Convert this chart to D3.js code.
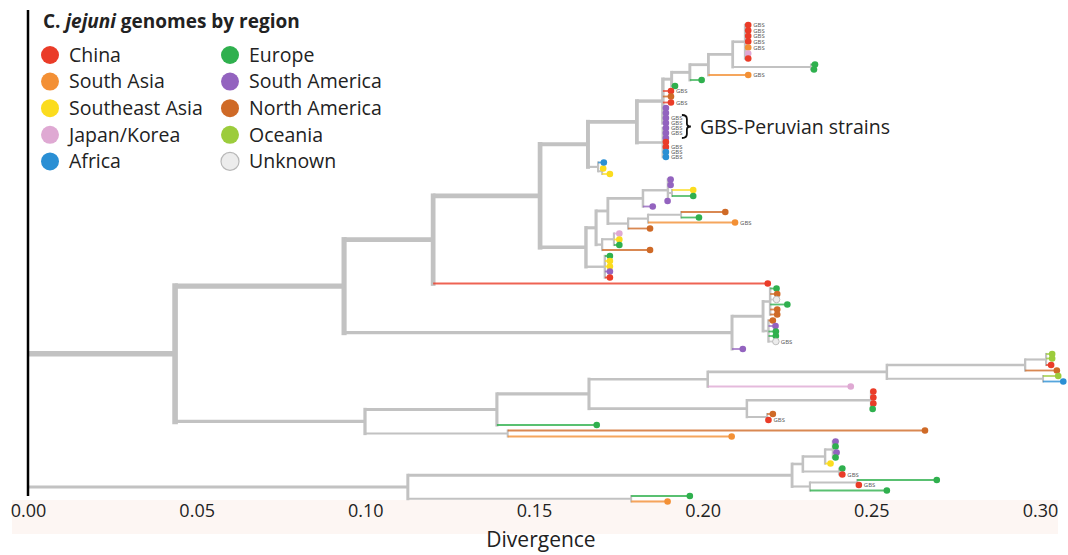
<!DOCTYPE html>
<html>
<head>
<meta charset="utf-8">
<script src="https://cdn.jsdelivr.net/npm/d3@7"></script>
<style>
body { margin: 0; background: #fff; font-family: "Open Sans", sans-serif; }
</style>
</head>
<body>
<svg id="chart" width="1068" height="555"></svg>
<script>
'use strict'

// legend / regions
const regionNames = ['China', 'South Asia', 'Southeast Asia', 'Japan/Korea', 'Africa',
	'Europe', 'South America', 'North America', 'Oceania', 'Unknown']
const regionCodes = ['CN', 'SA', 'SEA', 'JK', 'AF', 'EU', 'SAM', 'NA', 'OC', 'UN']
const regionColors = ['#ea3c28', '#f39035', '#fbdc1e', '#dfa9d3', '#2a8fd4',
	'#2fb04e', '#9363bf', '#cf6a27', '#9ccc3c', '#ececec']

const tickValues = [0, 0.05, 0.10, 0.15, 0.20, 0.25, 0.30]

// internal nodes: [id, parent, divergence]
const backbone = [
	['root', null, 0],
	['n175', 'root', 0.0436],
	['n408', 'root', 0.1126],
	['n344', 'n175', 0.0937],
	['n365', 'n175', 0.0999],
	['n433', 'n344', 0.1201],
	['n732', 'n344', 0.2087],
	['n540', 'n433', 0.1518],
	['n588', 'n540', 0.1660],
	['n586', 'n540', 0.1654]
]
const topInner = [
	['n637', 'n588', 0.1805], ['nW', 'n588', 0.1690], ['nW2', 'nW', 0.1702],
	['nU', 'n637', 0.1882], ['nL', 'n637', 0.1882], ['n671', 'nU', 0.1908],
	['n690', 'n671', 0.1962], ['n708', 'n690', 0.2017], ['n733', 'n708', 0.2089],
	['nZ', 'n733', 0.2126], ['n811', 'n733', 0.2321]
]
const midInner = [
	['nS1', 'n586', 0.1684], ['nS2', 'n586', 0.1710], ['nS1a', 'nS1', 0.1719],
	['nS1b', 'nS1', 0.1702], ['nS1a1', 'nS1a', 0.1823], ['nS1a2', 'nS1a', 0.1779],
	['nT1', 'nS1a1', 0.1897], ['nT1y', 'nT1', 0.1909], ['nS1a2u', 'nS1a2', 0.1838],
	['nU1', 'nS1a2u', 0.1936], ['nV', 'nS1b', 0.1737]
]
const a1bInner = [
	['nX', 'n732', 0.2179], ['nP', 'nX', 0.2200], ['nQ', 'nX', 0.2195]
]
const a2Inner = [
	['n497', 'n365', 0.1390], ['n507', 'n365', 0.1422], ['n589', 'n497', 0.1663],
	['n707', 'n589', 0.2015], ['n747', 'n589', 0.2131], ['n887', 'n707', 0.2546],
	['n1025', 'n887', 0.2956], ['n1043', 'n887', 0.3009], ['n1046', 'n1025', 0.3018],
	['n871', 'n747', 0.2499], ['n767', 'n747', 0.2191]
]
const bInner = [
	['nB1', 'n408', 0.2265], ['nB2', 'n408', 0.1788], ['nB1a', 'nB1', 0.2297],
	['nB1b', 'nB1', 0.2318], ['nB1a1', 'nB1a', 0.2363], ['nB1a1x', 'nB1a1', 0.2386],
	['nB1a2', 'nB1a', 0.2404], ['nB1b1', 'nB1b', 0.2458]
]

// tips: [parent, divergence, row slot, region, GBS]
const topTips = [
	['nZ', 0.2135, 0, 'CN', 1], ['nZ', 0.2135, 1.1, 'CN', 1], ['nZ', 0.2135, 2.2, 'CN', 1],
	['nZ', 0.2135, 3.3, 'CN', 1], ['nZ', 0.2135, 4.5, 'SA', 1], ['nZ', 0.2135, 5.7, 'JK', 0],
	['nZ', 0.2135, 6.7, 'CN', 0], ['n811', 0.2333, 7.9, 'EU', 0], ['n811', 0.2330, 8.9, 'EU', 0],
	['n708', 0.2135, 10, 'SA', 1], ['n690', 0.1997, 11, 'EU', 0], ['n671', 0.1918, 12.2, 'EU', 0],
	['nU', 0.1906, 13.2, 'CN', 1], ['nU', 0.1906, 14.3, 'NA', 0], ['nU', 0.1906, 15.5, 'CN', 1],
	['nU', 0.1891, 16.6, 'SAM', 0], ['nU', 0.1891, 17.6, 'SAM', 0], ['nU', 0.1891, 18.6, 'SAM', 1],
	['nU', 0.1891, 19.6, 'SAM', 1], ['nL', 0.1891, 20.6, 'SAM', 1], ['nL', 0.1891, 21.6, 'SAM', 1],
	['nL', 0.1891, 22.6, 'SAM', 0], ['nL', 0.1891, 23.4, 'CN', 0], ['nL', 0.1891, 24.4, 'CN', 1],
	['nL', 0.1891, 25.4, 'AF', 1], ['nL', 0.1891, 26.4, 'AF', 1], ['nW', 0.1707, 27.5, 'AF', 0],
	['nW2', 0.1705, 28.7, 'SEA', 0], ['nW2', 0.1725, 29.8, 'SEA', 0]
]
const midTips = [
	['nT1', 0.1905, 30.9, 'SAM', 0], ['nT1', 0.1905, 32, 'SAM', 0], ['nT1y', 0.1972, 33, 'SEA', 0],
	['nT1y', 0.1972, 34.2, 'EU', 0], ['nT1', 0.1896, 35.2, 'SAM', 0], ['nS1a1', 0.1852, 36.3, 'SAM', 0],
	['nU1', 0.2067, 37.4, 'NA', 0], ['nU1', 0.1989, 38.5, 'EU', 0], ['nS1a2u', 0.2096, 39.5, 'SA', 1],
	['nS1a2', 0.1844, 40.7, 'NA', 0], ['nV', 0.1753, 41.7, 'JK', 0], ['nV', 0.1753, 42.9, 'SEA', 0],
	['nV', 0.1753, 44, 'EU', 0], ['nS1b', 0.1844, 45, 'NA', 0], ['nS2', 0.1725, 46.2, 'EU', 0],
	['nS2', 0.1725, 47.2, 'SEA', 0], ['nS2', 0.1725, 48.3, 'SEA', 0], ['nS2', 0.1725, 49.3, 'SAM', 0],
	['nS2', 0.1725, 50.5, 'CN', 0], ['n433', 0.2193, 51.7, 'CN', 0]
]
const a1bTips = [
	['nP', 0.2219, 52.7, 'EU', 0], ['nP', 0.2221, 53.8, 'NA', 0], ['nP', 0.2219, 54.9, 'UN', 0],
	['nP', 0.2251, 55.9, 'EU', 0], ['nP', 0.2221, 56.9, 'NA', 0], ['nP', 0.2221, 57.9, 'NA', 0],
	['nQ', 0.2208, 59.1, 'NA', 0], ['nQ', 0.2216, 60.2, 'SAM', 0], ['nQ', 0.2217, 61.3, 'EU', 0],
	['nQ', 0.2217, 62.2, 'EU', 0], ['nQ', 0.2217, 63.3, 'UN', 1], ['n732', 0.2119, 64.8, 'SAM', 0]
]
const a2Tips = [
	['n1046', 0.3036, 65.8, 'OC', 0], ['n1046', 0.3036, 66.7, 'OC', 0], ['n1046', 0.3033, 68, 'CN', 0],
	['n1025', 0.3050, 69.1, 'NA', 0], ['n1043', 0.3054, 70.2, 'OC', 0], ['n1043', 0.3069, 71.3, 'AF', 0],
	['n707', 0.2439, 72.3, 'JK', 0], ['n871', 0.2506, 73.3, 'CN', 0], ['n871', 0.2506, 74.5, 'CN', 0],
	['n871', 0.2506, 75.7, 'CN', 0], ['n871', 0.2504, 76.8, 'EU', 0], ['n767', 0.2208, 77.8, 'NA', 0],
	['n767', 0.2195, 79, 'CN', 1], ['n497', 0.1686, 80, 'EU', 0], ['n507', 0.2659, 81.1, 'NA', 0],
	['n507', 0.2086, 82.3, 'SA', 0]
]
const bTips = [
	['nB1a1x', 0.2394, 83.3, 'SAM', 0], ['nB1a1x', 0.2394, 84.3, 'EU', 0], ['nB1a1x', 0.2397, 85.5, 'SAM', 0],
	['nB1a1x', 0.2394, 86.5, 'EU', 0], ['nB1a1', 0.2379, 87.7, 'SEA', 0], ['nB1a2', 0.2414, 88.7, 'EU', 0],
	['nB1a2', 0.2414, 89.9, 'CN', 1], ['nB1b1', 0.2694, 91, 'EU', 0], ['nB1b1', 0.2463, 92, 'CN', 1],
	['nB1b', 0.2546, 93.1, 'EU', 0], ['nB2', 0.1962, 94.2, 'EU', 0], ['nB2', 0.1896, 95.3, 'SA', 0]
]

const svg = d3.select('#chart')
const width = 1068

const x = d3.scaleLinear().domain([0, 0.3]).range([28, 1040])
const y = d3.scaleLinear().domain([0, 96]).range([25, 505])
const color = d3.scaleOrdinal().domain(regionCodes).range(regionColors)

// build hierarchy
const rows = []
;[backbone, topInner, midInner, a1bInner, a2Inner, bInner].forEach(list =>
	list.forEach(r => rows.push({id: r[0], parent: r[1], div: r[2]})))
;[topTips, midTips, a1bTips, a2Tips, bTips].forEach((list, k) =>
	list.forEach((r, i) => rows.push({id: 't' + k + '_' + i, parent: r[0], div: r[1], slot: r[2], region: r[3], gbs: r[4]})))

const root = d3.stratify().id(d => d.id).parentId(d => d.parent)(rows)
root.count()
root.eachAfter(n => {
	if (n.children) {
		const ys = n.children.map(c => c.slot)
		n.slot = (d3.min(ys) + d3.max(ys)) / 2
	} else n.slot = n.data.slot
})

const wScale = d3.scaleSqrt().domain([1, d3.max(root.children, c => c.value)]).range([1.8, 5.6])

// axis band
svg.append('rect')
	.attr('x', 12).attr('y', 500).attr('width', width - 22).attr('height', 34)
	.attr('fill', '#fdf6f3')

const gTree = svg.append('g')

// vertical connectors
gTree.selectAll('.vert')
	.data(root.descendants().filter(d => d.children && d.parent))
	.enter().append('path')
	.attr('class', 'vert')
	.attr('d', d => {
		const ys = d.children.map(c => c.slot)
		return 'M' + x(d.data.div) + ',' + y(d3.min(ys)) + 'V' + y(d3.max(ys))
	})
	.attr('stroke', '#c2c2c2')
	.attr('stroke-width', d => wScale(d.value))
	.attr('stroke-linecap', 'square')
	.attr('fill', 'none')

// horizontal branches
const branches = root.descendants().filter(d => d.parent)
gTree.selectAll('.branch')
	.data(branches.filter(d => d.children))
	.enter().append('path')
	.attr('class', 'branch')
	.attr('d', d => 'M' + x(d.parent.data.div) + ',' + y(d.slot) + 'H' + x(d.data.div))
	.attr('stroke', '#c2c2c2')
	.attr('stroke-width', d => wScale(d.value))
	.attr('fill', 'none')

gTree.selectAll('.tipbranch')
	.data(branches.filter(d => !d.children))
	.enter().append('path')
	.attr('class', 'tipbranch')
	.attr('d', d => 'M' + x(d.parent.data.div) + ',' + y(d.slot) + 'H' + x(d.data.div))
	.attr('stroke', d => d.data.region === 'UN' ? '#c2c2c2' : color(d.data.region))
	.attr('stroke-opacity', 0.8)
	.attr('stroke-width', 1.8)
	.attr('fill', 'none')

const leaves = root.leaves()

gTree.selectAll('.tip')
	.data(leaves)
	.enter().append('circle')
	.attr('class', 'tip')
	.attr('cx', d => x(d.data.div))
	.attr('cy', d => y(d.slot))
	.attr('r', 3.3)
	.attr('fill', d => color(d.data.region))
	.attr('stroke', d => d.data.region === 'UN' ? '#b8b8b8' : 'none')
	.attr('stroke-width', 0.9)

gTree.selectAll('.gbs')
	.data(leaves.filter(d => d.data.gbs))
	.enter().append('text')
	.attr('class', 'gbs')
	.attr('x', d => x(d.data.div) + 5)
	.attr('y', d => y(d.slot) + 2.2)
	.attr('font-size', '6px')
	.attr('fill', '#555')
	.text('GBS')

// GBS-Peruvian bracket
const peru = leaves.filter(d => d.data.region === 'SAM' && d.data.gbs && d.slot < 30)
const bTop = y(d3.min(peru, d => d.slot)) - 3
const bBot = y(d3.max(peru, d => d.slot)) + 5
const bMid = (bTop + bBot) / 2
const bx = x(d3.max(peru, d => d.data.div)) + 16
svg.append('path')
	.attr('d', 'M' + bx + ',' + bTop + 'Q' + (bx + 5) + ',' + bTop + ' ' + (bx + 5) + ',' + (bTop + 4) +
		'V' + (bMid - 3) + 'Q' + (bx + 5) + ',' + bMid + ' ' + (bx + 9) + ',' + bMid +
		'Q' + (bx + 5) + ',' + bMid + ' ' + (bx + 5) + ',' + (bMid + 3) +
		'V' + (bBot - 4) + 'Q' + (bx + 5) + ',' + bBot + ' ' + bx + ',' + bBot)
	.attr('fill', 'none')
	.attr('stroke', '#111')
	.attr('stroke-width', 1.8)
svg.append('text')
	.attr('x', bx + 18)
	.attr('y', bMid + 7)
	.attr('font-size', '19.5px')
	.attr('fill', '#222')
	.text('GBS-Peruvian strains')

// black vertical base line
svg.append('line')
	.attr('x1', x(0)).attr('x2', x(0))
	.attr('y1', 10).attr('y2', 496)
	.attr('stroke', '#000')
	.attr('stroke-width', 2.5)

// x axis
const xAxis = d3.axisBottom(x).tickValues(tickValues).tickFormat(d3.format('.2f')).tickSize(0).tickPadding(4)
const gx = svg.append('g')
	.attr('transform', 'translate(0,500)')
	.call(xAxis)
gx.select('.domain').remove()
gx.selectAll('text')
	.attr('font-family', '"Open Sans", sans-serif')
	.attr('font-size', '18px')
	.attr('fill', '#222')

svg.append('text')
	.attr('x', 541)
	.attr('y', 547)
	.attr('text-anchor', 'middle')
	.attr('font-size', '21px')
	.attr('fill', '#222')
	.text('Divergence')

// legend
const title = svg.append('text')
	.attr('x', 43).attr('y', 28)
	.attr('font-size', '19px')
	.attr('font-weight', 'bold')
	.attr('fill', '#222')
title.append('tspan').text('C. ')
title.append('tspan').attr('font-style', 'italic').text('jejuni')
title.append('tspan').text(' genomes by region')

const legend = svg.selectAll('.legend')
	.data(regionNames)
	.enter().append('g')
	.attr('class', 'legend')
	.attr('transform', (d, i) => 'translate(' + (i < 5 ? 50 : 230) + ',' + (55 + (i % 5) * 26.6) + ')')

legend.append('circle')
	.attr('r', 9)
	.attr('fill', (d, i) => regionColors[i])
	.attr('stroke', (d, i) => regionCodes[i] === 'UN' ? '#b8b8b8' : 'none')
	.attr('stroke-width', 1.2)

legend.append('text')
	.attr('x', 19)
	.attr('dy', '0.35em')
	.attr('font-size', '19.5px')
	.attr('fill', '#222')
	.text(d => d)
</script>
</body>
</html>
